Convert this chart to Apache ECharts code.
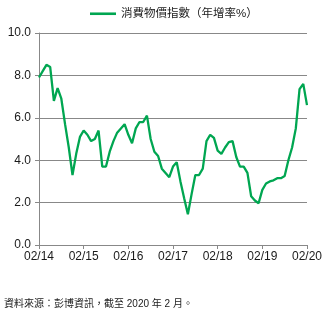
<!DOCTYPE html>
<html><head><meta charset="utf-8">
<script src="https://cdn.jsdelivr.net/npm/echarts@6/dist/echarts.min.js"></script>
<style>html,body{margin:0;padding:0;background:#fff}#c{width:325px;height:317px}</style>
</head><body><div id="c"></div>
<script>
const seriesName = '消費物價指數（年增率%）';
const categories = [];
const monthLabels = ['01','02','03','04','05','06','07','08','09','10','11','12'];
// Feb 2014 .. Feb 2020
for (let y = 14; y <= 20; y++) {
  for (let m = 0; m < 12; m++) {
    if (y === 14 && m < 1) continue;
    if (y === 20 && m > 1) continue;
    categories.push(monthLabels[m] + '/' + y);
  }
}
const cpi2014 = [7.9, 8.2, 8.5, 8.4, 6.8, 7.4, 6.9, 5.7, 4.6, 3.3, 4.3];
const cpi2015 = [5.1, 5.4, 5.2, 4.9, 5.0, 5.4, 3.7, 3.7, 4.4, 4.9, 5.3, 5.5];
const cpi2016 = [5.7, 5.2, 4.8, 5.5, 5.8, 5.8, 6.1, 5.0, 4.4, 4.2, 3.6, 3.4];
const cpi2017 = [3.2, 3.7, 3.9, 3.0, 2.2, 1.45, 2.4, 3.3, 3.3, 3.6, 4.9, 5.2];
const cpi2018 = [5.05, 4.45, 4.3, 4.6, 4.85, 4.9, 4.15, 3.7, 3.7, 3.4, 2.3, 2.1];
const cpi2019 = [1.97, 2.6, 2.9, 3.0, 3.05, 3.15, 3.15, 3.25, 4.0, 4.6, 5.5, 7.35];
const cpi2020 = [7.6, 6.6];
const values = [].concat(cpi2014, cpi2015, cpi2016, cpi2017, cpi2018, cpi2019, cpi2020);
const footnote = '資料來源：彭博資訊，截至 2020 年 2 月。';

const font = '"Liberation Sans", Arial, "Noto Sans CJK TC", sans-serif';
const chart = echarts.init(document.getElementById('c'), null, {renderer: 'canvas'});
chart.setOption({
  animation: false,
  backgroundColor: '#fff',
  textStyle: {fontFamily: font},
  legend: {
    top: 3, left: 85,
    itemWidth: 26, itemHeight: 10, itemGap: 4,
    icon: 'path://M0,4 L26,4 L26,6.6 L0,6.6 Z',
    textStyle: {fontSize: 11.5, color: '#1a1a1a', fontFamily: font},
    data: [seriesName]
  },
  grid: {left: 39, right: 18, top: 33, bottom: 72, containLabel: false},
  xAxis: {
    type: 'category', data: categories, boundaryGap: false,
    axisLine: {lineStyle: {color: '#888', width: 1}},
    axisTick: {show: true, interval: (i) => i % 12 === 0, length: 4, lineStyle: {color: '#888'}},
    axisLabel: {interval: (i) => i % 12 === 0, color: '#1a1a1a', fontSize: 12, margin: 6, fontFamily: font},
    splitLine: {show: false}
  },
  yAxis: {
    type: 'value', min: 0, max: 10, interval: 2,
    axisLine: {show: true, lineStyle: {color: '#888', width: 1}},
    axisTick: {show: true, length: 4, lineStyle: {color: '#888'}},
    axisLabel: {color: '#1a1a1a', fontSize: 12, margin: 8, fontFamily: font,
      formatter: (v) => v.toFixed(1)},
    splitLine: {show: true, lineStyle: {color: '#888', width: 1}}
  },
  series: [{
    name: seriesName, type: 'line', data: values,
    symbol: 'none', smooth: false,
    lineStyle: {color: '#00A651', width: 2.3},
    itemStyle: {color: '#00A651'}
  }],
  graphic: [{
    type: 'text', left: 4, top: 299,
    style: {text: footnote, fill: '#1a1a1a', fontSize: 10, fontFamily: font}
  }]
});
</script></body></html>
